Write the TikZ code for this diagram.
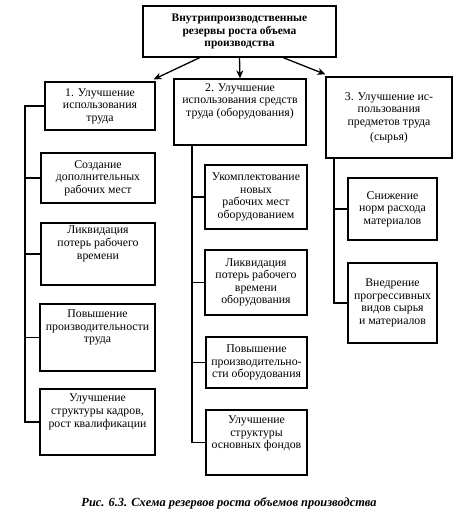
\documentclass[tikz,border=0pt]{standalone}
\usepackage{fontspec}
\setmainfont{Liberation Serif}
\usetikzlibrary{arrows.meta,calc}
\tikzset{
  box/.style={draw, line width=1.3pt, align=center, inner sep=2pt,
    font=\fontsize{11.8}{12.6}\selectfont},
  topbox/.style={box, font=\bfseries\fontsize{11.5}{12.6}\selectfont},
  conn/.style={line width=1.3pt},
  arr/.style={line width=1.3pt, -{Stealth[length=8pt,width=7pt]}},
  caption/.style={font=\bfseries\itshape\fontsize{12.4}{14}\selectfont}
}
\begin{document}
\begin{tikzpicture}[x=1pt,y=-1pt]
\useasboundingbox (0,0) rectangle (457,512);
\fill[white] (0,0) rectangle (457,512);
% top
\node[topbox, minimum width=193pt, minimum height=51pt] (top) at (239.5,31.5)
  {Внутрипроизводственные\\резервы роста объема\\производства};
% level 1
\node[box, minimum width=110pt, minimum height=48pt] (b1) at (100,106)
  {1. Улучшение\\использования\\труда};
\node[box, minimum width=132pt, minimum height=66pt] (b2) at (240,112)
  {2. Улучшение\\использования средств\\труда (оборудования)\\[12pt]};
\node[box, minimum width=126pt, minimum height=81pt] (b3) at (389,117.5)
  {3. Улучшение ис-\\пользования\\предметов труда\\[2pt](сырья)};
% left column
\node[box, minimum width=114pt, minimum height=50pt] (l1) at (98,178)
  {Создание\\дополнительных\\рабочих мест};
\node[box, minimum width=114pt, minimum height=62pt] (l2) at (98,254)
  {Ликвидация\\потерь рабочего\\времени\\[10pt]};
\node[box, minimum width=115pt, minimum height=67pt] (l3) at (97.5,337.5)
  {Повышение\\производительности\\труда\\[10pt]};
\node[box, minimum width=115pt, minimum height=66pt] (l4) at (97.5,422)
  {Улучшение\\структуры кадров,\\рост квалификации\\[10pt]};
% middle column
\node[box, minimum width=102pt, minimum height=64pt] (m1) at (256,197)
  {Укомплектование\\новых\\рабочих мест\\оборудованием};
\node[box, minimum width=102pt, minimum height=65pt] (m2) at (256,282.5)
  {Ликвидация\\потерь рабочего\\времени\\оборудования};
\node[box, minimum width=101pt, minimum height=51pt] (m3) at (256.5,362.5)
  {Повышение\\производительно-\\сти оборудования};
\node[box, minimum width=101pt, minimum height=65pt] (m4) at (256.5,442.5)
  {Улучшение\\структуры\\основных фондов\\[8pt]};
% right column
\node[box, minimum width=89pt, minimum height=62pt] (r1) at (392.5,209)
  {Снижение\\норм расхода\\материалов};
\node[box, minimum width=89pt, minimum height=80pt] (r2) at (392.5,303)
  {Внедрение\\прогрессивных\\видов сырья\\и материалов};
% trunks
\coordinate (tl) at (25,0);
\coordinate (tm) at (192,0);
\coordinate (tr) at (334,0);
% arrows
\draw[arr] ($(top.south west)!0.295!(top.south east)$) -- ($(b1.north east)+(-2,-2)$);
\draw[arr] (top.south) -- (b2.north);
\draw[arr] ($(top.south west)!0.725!(top.south east)$) -- ($(b3.north west)+(0,-2)$);
% left connectors
\draw[conn] (b1.west) -- (b1.west -| tl) |- (l4.west);
\foreach \n in {l1,l2,l3} \draw[conn] (\n.west) -- (\n.west -| tl);
% middle connectors
\draw[conn] (b2.south -| tm) |- (m4.west);
\foreach \n in {m1,m2,m3} \draw[conn] (\n.west) -- (\n.west -| tm);
% right connectors
\draw[conn] (b3.south -| tr) |- (r2.west);
\draw[conn] (r1.west) -- (r1.west -| tr);
% caption
\node[caption] (cap) at (229,503) {Рис. 6.3. Схема резервов роста объемов производства};
\end{tikzpicture}
\end{document}
